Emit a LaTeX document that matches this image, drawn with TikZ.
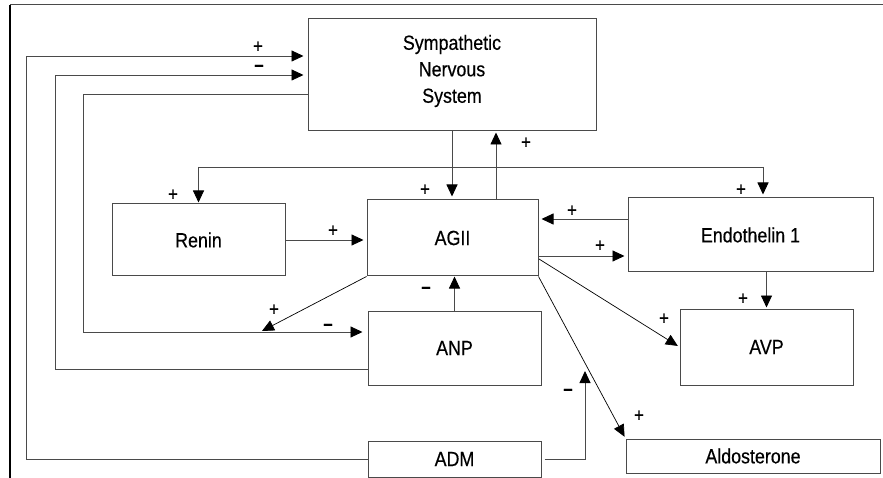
\documentclass[tikz,border=0pt]{standalone}
\usepackage{fontspec}
\setmainfont{Liberation Sans}[FakeStretch=0.87, FakeBold=0.4]
\usetikzlibrary{arrows.meta}
\definecolor{ln}{HTML}{4A4A4A}
\tikzset{
  box/.style={draw=ln, line width=1pt, inner sep=0pt, anchor=center, align=center,
    font=\fontsize{20.5}{26.5}\selectfont},
  arr/.style={draw=ln, line width=0.9pt, -{Triangle[length=12pt,width=11pt,color=black,fill=black]}, shorten >=3pt},
  lbl/.style={inner sep=0pt, font=\fontsize{19}{19}\selectfont},
}
\begin{document}
\begin{tikzpicture}[x=1pt,y=-1pt]
\useasboundingbox (0,0) rectangle (883,478);
% frame
\draw[line width=2.6pt] (10,5) -- (10,478);
\draw[ln, line width=1pt] (10,5) -- (883,5);
% boxes
\node[box, minimum width=288pt, minimum height=112pt] (sns) at (452,75) {};
\node[anchor=center, align=center, inner sep=0pt, font=\fontsize{20.5}{26.5}\selectfont] (snst) at (452,71) {Sympathetic\\Nervous\\System};
\node[box, minimum width=173pt, minimum height=72pt] (renin) at (198.5,240) {Renin};
\node[box, minimum width=171pt, minimum height=76pt] (agii) at (452.5,238) {AGII};
\node[box, minimum width=245pt, minimum height=74pt] (endo) at (750.5,235) {Endothelin 1};
\node[box, minimum width=173pt, minimum height=76pt] (avp) at (766.5,347) {AVP};
\node[box, minimum width=173pt, minimum height=74pt] (anp) at (454.5,348) {ANP};
\node[box, minimum width=173pt, minimum height=36pt] (adm) at (454.5,459) {ADM};
\node[box, minimum width=254pt, minimum height=34pt] (aldo) at (753,456) {Aldosterone};
% helper coordinates
\coordinate (j0) at (452,167);
\coordinate (ex) at (763,0);
\coordinate (ux) at (496,0);
\coordinate (l1a) at (26,459);
\coordinate (l1b) at (26,56);
\coordinate (l2a) at (55,369);
\coordinate (l2b) at (55,75);
\coordinate (l3a) at (83,94);
\coordinate (l3b) at (83,332);
\coordinate (y219) at (0,219);
\coordinate (y256) at (0,256);
\coordinate (g1) at (539,259);
\coordinate (d1) at (262,331);
\coordinate (m1) at (585,459);
\coordinate (m2) at (585,371);
% connectors
\draw[arr] (sns.south) -- (sns.south |- agii.north);
\draw[ln, line width=0.9pt] (renin.north |- j0) -- (ex |- j0);
\draw[arr, shorten >=1pt] (renin.north |- j0) -- (renin.north);
\draw[arr] (ex |- j0) -- (ex |- endo.north);
\draw[arr, shorten >=1pt] (ux |- agii.north) -- (ux |- sns.south);
\draw[arr, shorten >=4pt] (adm.west |- l1a) -- (l1a) -- (l1b) -- (sns.west |- l1b);
\draw[arr, shorten >=4pt] (anp.west |- l2a) -- (l2a) -- (l2b) -- (sns.west |- l2b);
\draw[arr, shorten >=5pt] (sns.west |- l3a) -- (l3a) -- (l3b) -- (anp.west |- l3b);
\draw[arr] (renin.east) -- (renin.east -| agii.west);
\draw[arr] (endo.west |- y219) -- (agii.east |- y219);
\draw[arr] (agii.east |- y256) -- (endo.west |- y256);
\draw[arr, shorten >=1pt] (endo.south -| avp.north) -- (avp.north);
\draw[arr, draw=black, line width=0.7pt, shorten >=2pt] (g1) -- (avp.west);
\draw[arr, draw=black, line width=0.7pt, shorten >=2pt] (agii.south east) -- (aldo.north west);
\draw[arr, draw=black, line width=0.7pt, shorten >=0pt] (agii.south west) -- (d1);
\draw[arr, shorten >=0pt] (anp.north) -- (anp.north |- agii.south);
\draw[arr, shorten >=0pt] ([xshift=3pt]adm.east |- m1) -- (m1) -- (m2);
% labels
\node[lbl] (p1) at (258,47) {+};
\node[lbl] (n1) at (259,68) {\textbf{–}};
\node[lbl] (p2) at (173,195) {+};
\node[lbl] (p3) at (425,190) {+};
\node[lbl] (p4) at (526,143) {+};
\node[lbl] (p5) at (741,190) {+};
\node[lbl] (p6) at (333,231) {+};
\node[lbl] (p7) at (572,211) {+};
\node[lbl] (p8) at (600,246) {+};
\node[lbl] (p9) at (743,299) {+};
\node[lbl] (p10) at (664,319) {+};
\node[lbl] (p11) at (639,416) {+};
\node[lbl] (p12) at (274,310) {+};
\node[lbl] (n2) at (328,327) {\textbf{–}};
\node[lbl] (n3) at (426,290) {\textbf{–}};
\node[lbl] (n4) at (568,392) {\textbf{–}};
\end{tikzpicture}
\end{document}
